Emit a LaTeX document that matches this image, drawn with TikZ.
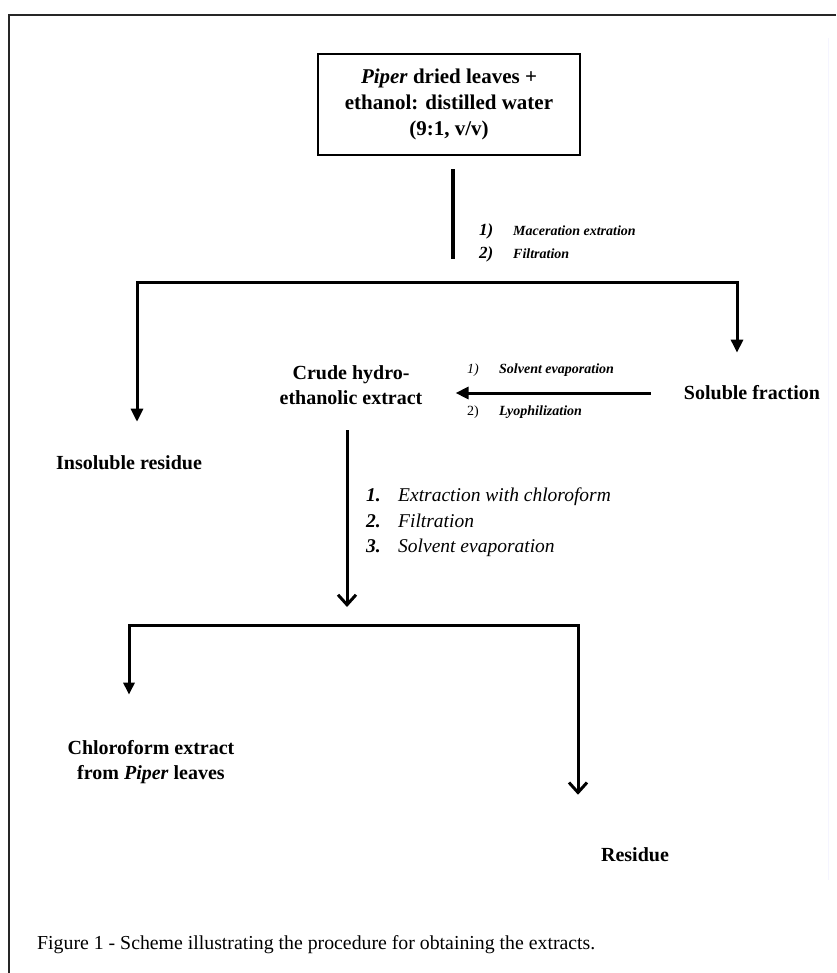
\documentclass[tikz,border=0pt]{standalone}
\usepackage{fontspec}
\setmainfont{Liberation Serif}
\usepackage{tikz}
\usetikzlibrary{%
	arrows.meta,%
	positioning,%
	calc,%
}
\tikzset{
	>=Triangle,%
	nodes={align=center},%
	srcbox/.style={%
			draw,%
			rectangle,%
			line width=2.8pt,%
			minimum width=262pt,%
			minimum height=101pt,%
			font={\fontsize{21}{26}\selectfont\bfseries}},%
	product/.style={%
			inner sep=0pt,%
			font={\fontsize{20}{25}\selectfont\bfseries}},%
	stepnote/.style={%
			inner sep=0pt,%
			anchor=west,%
			align=left,%
			font={\fontsize{14}{23}\selectfont\bfseries\itshape}},%
	steplist/.style={%
			inner sep=0pt,%
			anchor=west,%
			align=left,%
			font={\fontsize{19.5}{25.5}\selectfont\itshape}},%
	figcaption/.style={%
			inner sep=0pt,%
			anchor=west,%
			font={\fontsize{19.8}{24}\selectfont}},%
	flow/.style={line width=3pt},%
	filltip/.style={flow, -{Triangle[width=12pt,length=13pt]}},%
	barbtip/.style={flow, -{Straight Barb[width=18pt,length=10pt]}},%
}
\newcommand{\stepno}[2][32pt]{\makebox[#1][l]{#2}}

\begin{document}
\begin{tikzpicture}[x=1pt,y=-1pt]
	\useasboundingbox (0,0) rectangle (836,973);
	% frame of the figure
	\draw[line width=2pt, black!85] (836,15) -- (9,15) -- (9,973);
	\draw[line width=1pt, blue!4] (828,38) -- (828,880);

	\node[srcbox] (src) at (449,104.5) {\textit{Piper} dried leaves +\\
		ethanol: distilled water\\
		(9:1, v/v)};

	\node[product] (insol) at (129,463) {Insoluble residue};
	\node[product] (sol) at (752,393) {Soluble fraction};
	\node[product] (crude) at (351,385.5) {Crude hydro-\\ ethanolic extract};
	\node[product] (chl) at (151,762.5) {Chloroform extract\\ from \textit{Piper} leaves};
	\node[product] (res) at (635,855) {Residue};

	\coordinate (splitL) at (137,282);
	\coordinate (splitR) at (737,282);
	\coordinate (forkL) at (129,625);
	\coordinate (forkR) at (578,625);

	% maceration
	\draw[flow, line width=3.2pt] ([xshift=4pt,yshift=-13pt]src.south) -- ++(0,90);
	\node[stepnote] (macnote) at (479,242.5) {%
		\stepno[34pt]{\fontsize{17}{20}\selectfont 1)}Maceration extration\\
		\stepno[34pt]{\fontsize{17}{20}\selectfont 2)}Filtration};
	\draw[flow, {Triangle[width=12pt,length=13pt]}-{Triangle[width=12pt,length=13pt]},
		shorten <=34pt, shorten >=33pt]
		(splitL |- insol.north) -- (splitL) -- (splitR) -- (splitR |- sol.north);

	% drying of the soluble fraction
	\draw[filltip, shorten <=33pt, shorten >=33pt] (sol.west) -- (sol.west -| crude.east);
	\node[stepnote, font={\fontsize{14}{17}\selectfont\bfseries\itshape}] (evap) at (467,370) {\stepno{\mdseries 1)}Solvent evaporation};
	\node[stepnote, font={\fontsize{14}{17}\selectfont\bfseries\itshape}] (lyo) at (467,412) {\stepno{\mdseries\upshape 2)}Lyophilization};

	% chloroform step
	\draw[barbtip, shorten <=25pt, shorten >=18pt] ([xshift=-4pt]crude.south) -- ([xshift=-4pt]crude.south |- forkL);
	\node[steplist] (chlsteps) at (366,522.5) {%
		\stepno{\bfseries 1.}Extraction with chloroform\\
		\stepno{\bfseries 2.}Filtration\\
		\stepno{\bfseries 3.}Solvent evaporation};
	\draw[flow, {Triangle[width=11pt,length=12pt]}-{Straight Barb[width=18pt,length=10pt]},
		shorten <=46pt, shorten >=53pt]
		(forkL |- chl.north) -- (forkL) -- (forkR) -- (forkR |- res.north);

	\node[figcaption] (cap) at (37,945) {Figure 1 - Scheme illustrating the procedure for obtaining the extracts.};
\end{tikzpicture}
\end{document}
